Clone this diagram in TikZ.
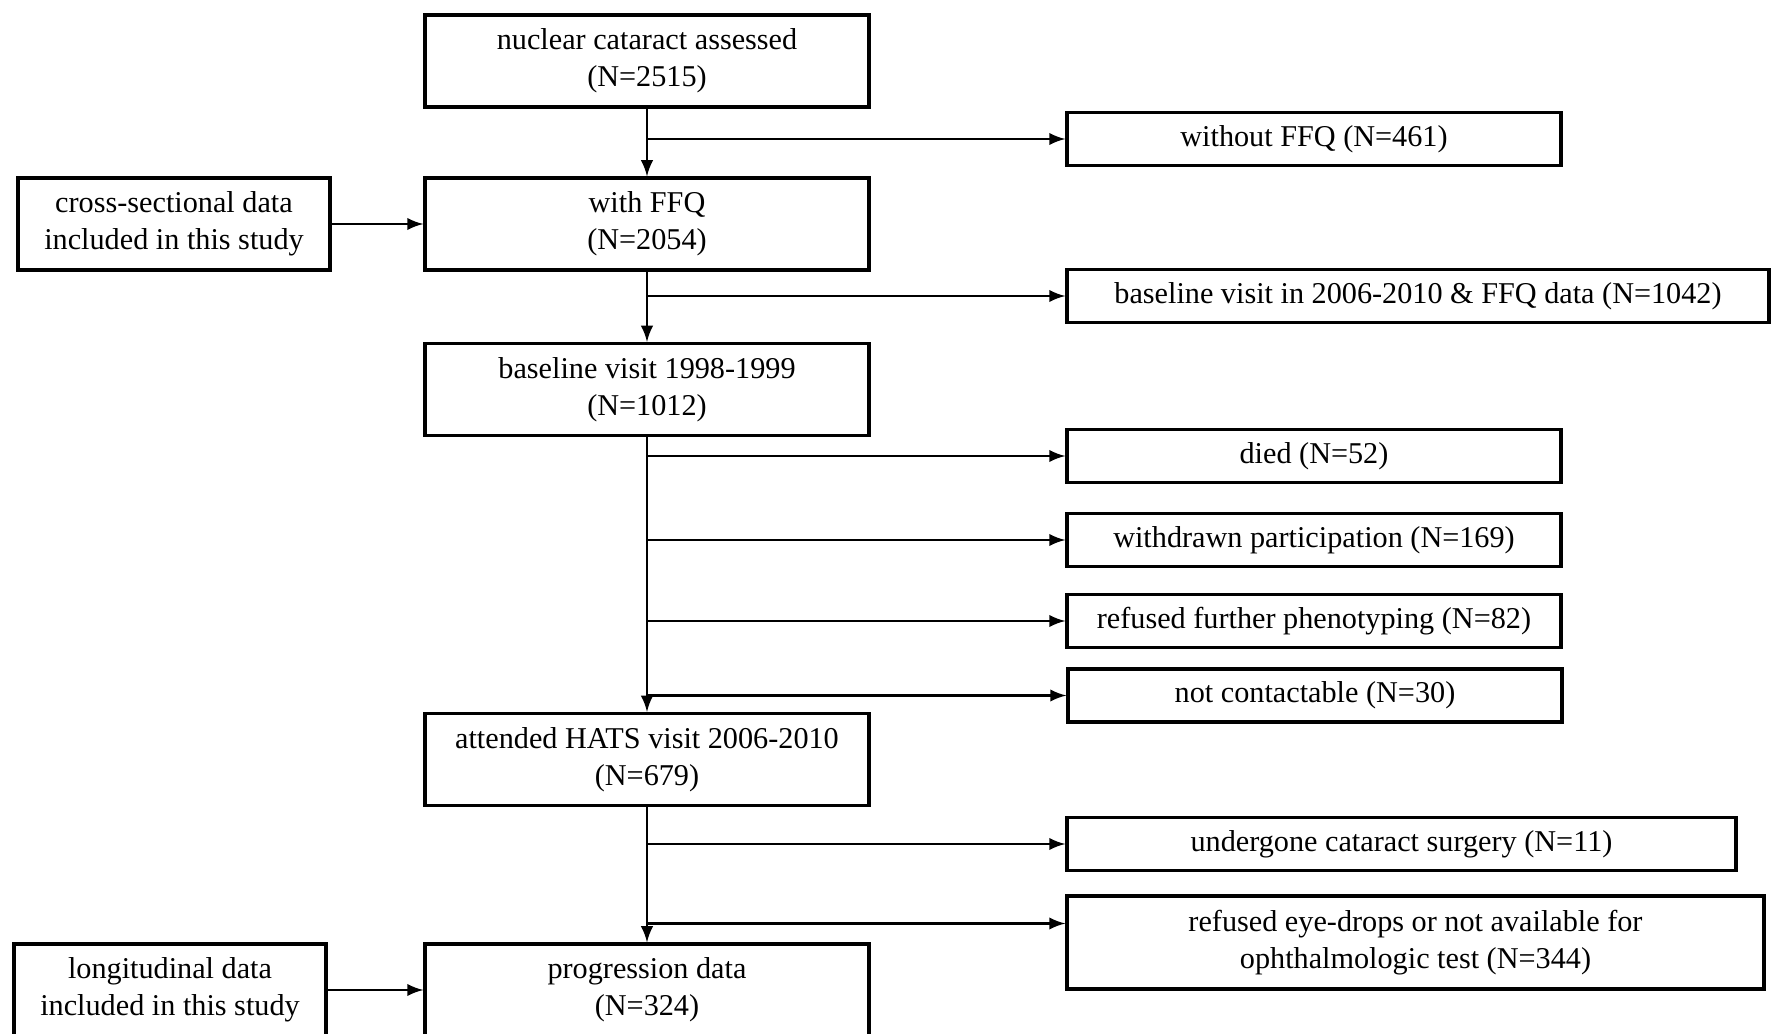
\documentclass[tikz,border=0pt]{standalone}
\usepackage{fontspec}
\setmainfont{Liberation Serif}
\usepackage{tikz}
\tikzstyle{box} = [rectangle, draw=black, line width=0.9pt, text centered, align=center, inner sep=1pt, font=\fontsize{8.6}{10.4}\selectfont]
\tikzstyle{mainbox} = [box, minimum width=4.44cm, minimum height=0.92cm]
\tikzstyle{sidebox} = [box, minimum width=3.12cm, minimum height=0.92cm]
\tikzstyle{outbox} = [box, minimum width=4.94cm, minimum height=0.53cm]
\tikzstyle{arr} = [->, >=latex, line width=0.6pt]

\begin{document}
\begin{tikzpicture}

\useasboundingbox (0,0) rectangle (17.71,-10.34);

\node (nuc) [mainbox] at (6.47,-0.61) {nuclear cataract assessed\\(N=2515)};
\node (ffq) [mainbox] at (6.47,-2.24) {with FFQ\\(N=2054)};
\node (base98) [mainbox] at (6.47,-3.895) {baseline visit 1998-1999\\(N=1012)};
\node (hats) [mainbox] at (6.47,-7.595) {attended HATS visit 2006-2010\\(N=679)};
\node (prog) [mainbox] at (6.47,-9.90) {progression data\\(N=324)};

\node (cross) [sidebox] at (1.74,-2.24) {cross-sectional data\\included in this study};
\node (longi) [sidebox] at (1.70,-9.90) {longitudinal data\\included in this study};

\node (noffq) [outbox] at (13.14,-1.39) {without FFQ (N=461)};
\node (base06) [outbox, minimum width=7.02cm] at (14.18,-2.96) {baseline visit in 2006-2010 \& FFQ data (N=1042)};
\node (died) [outbox] at (13.14,-4.56) {died (N=52)};
\node (withdr) [outbox] at (13.14,-5.40) {withdrawn participation (N=169)};
\node (refph) [outbox] at (13.14,-6.21) {refused further phenotyping (N=82)};
\node (nocont) [outbox] at (13.15,-6.955) {not contactable (N=30)};
\node (surg) [outbox, minimum width=6.69cm] at (14.015,-8.44) {undergone cataract surgery (N=11)};
\node (eyedr) [outbox, minimum width=6.97cm, minimum height=0.93cm] at (14.155,-9.425) {refused eye-drops or not available for\\ophthalmologic test (N=344)};
\coordinate (eyein) at ([yshift=0.19cm]eyedr.west);


\draw[arr] (nuc.south) -- (ffq.north);
\draw[arr] (ffq.south) -- (base98.north);
\draw[arr] (base98.south) -- (hats.north);
\draw[arr] (hats.south) -- (prog.north);

\draw[arr] (nuc.south |- noffq.west) -- (noffq.west);
\draw[arr] (ffq.south |- base06.west) -- (base06.west);
\draw[arr] (base98.south |- died.west) -- (died.west);
\draw[arr] (base98.south |- withdr.west) -- (withdr.west);
\draw[arr] (base98.south |- refph.west) -- (refph.west);
\draw[arr] (base98.south |- nocont.west) -- (nocont.west);
\draw[arr] (hats.south |- surg.west) -- (surg.west);
\draw[arr] (hats.south |- eyein) -- (eyein);

\draw[arr] (cross.east) -- (ffq.west);
\draw[arr] (longi.east) -- (prog.west);

\end{tikzpicture}
\end{document}
